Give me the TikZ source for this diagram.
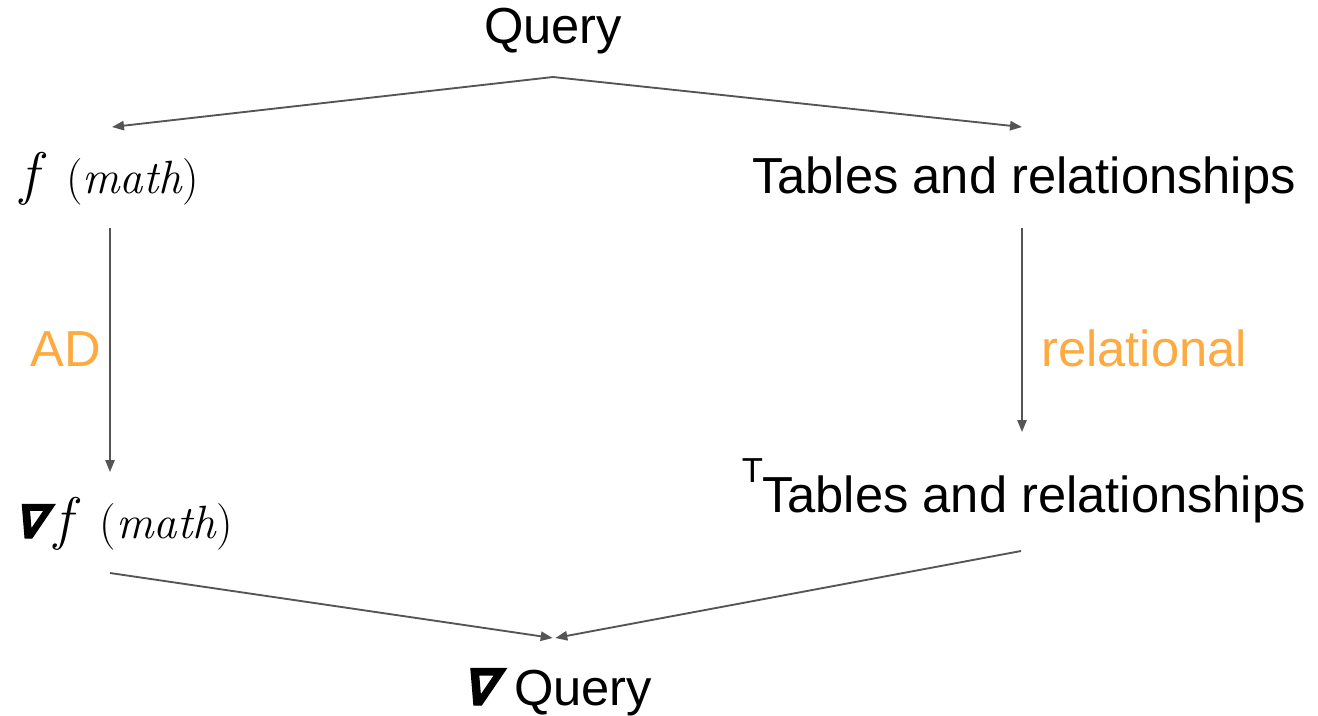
\documentclass[tikz,border=0pt]{standalone}
\usepackage{fontspec}
\setmainfont{Liberation Sans}
\newfontfamily\mathlike{Latin Modern Roman}
\newfontfamily\nablafont[FakeSlant=0.3, FakeBold=2.5]{DejaVu Sans Bold}
\usetikzlibrary{arrows.meta}
\definecolor{arrowgray}{RGB}{85,85,85}
\definecolor{accent}{RGB}{253,170,65}
\tikzset{
  lbl/.style={inner sep=0pt, font=\fontsize{38}{41}\selectfont},
  mathlbl/.style={inner sep=0pt, font=\fontsize{35}{38}\selectfont\mathlike},
  accentlbl/.style={lbl, text=accent},
  flow/.style={draw=arrowgray, line width=1.4pt,
    -{Triangle[length=9pt,width=7pt]}},
}
\newcommand{\gradsym}{{\nablafont ∇}}
\newcommand{\fsym}{{\fontsize{44}{44}\selectfont\itshape f}}
\begin{document}
\begin{tikzpicture}[x=0.75pt, y=-0.75pt]
  \useasboundingbox (0,0) rectangle (1318,715);

  % labels
  \node[lbl, anchor=base] (query) at (553,43) {Query};
  \node[lbl, anchor=base west] (tables) at (752,193) {Tables and relationships};
  \node[mathlbl, anchor=base west] (fmath) at (20,193) {\fsym\ \ (\textit{math})};
  \node[accentlbl, anchor=base west] (ad) at (30,366) {AD};
  \node[accentlbl, anchor=base west] (rel) at (1041,366) {relational};
  \node[mathlbl, anchor=base west] (gfmath) at (12,538) {\gradsym\kern7pt\fsym\ \ (\textit{math})};
  \node[lbl, anchor=base west] (ttables) at (762,512) {Tables and relationships};
  \node[anchor=base east, inner sep=0pt, font=\fontsize{26}{28}\selectfont] (tsup) at (ttables.base west) [yshift=22pt, xshift=1pt] {T};
  \node[lbl, anchor=base] (gquery) at (556,705) {\gradsym\kern14pt Query};

  % connector end points
  \coordinate (split) at (553,77);
  \coordinate (fin) at (112,127);
  \coordinate (tin) at (1022,127);
  \coordinate (fout) at (110,228);
  \coordinate (gfin) at (110,472);
  \coordinate (tout) at (1022,228);
  \coordinate (ttin) at (1022,432);
  \coordinate (gfout) at (110,573);
  \coordinate (ttout) at (1021,551);
  \coordinate (merge) at (554,638);

  % connectors
  \draw[flow] (split) -- (fin);
  \draw[flow] (split) -- (tin);
  \draw[flow] (fout) -- (gfin);
  \draw[flow] (tout) -- (ttin);
  \draw[flow] (gfout) -- ([xshift=-1pt]merge);
  \draw[flow] (ttout) -- ([xshift=1pt]merge);
\end{tikzpicture}
\end{document}
